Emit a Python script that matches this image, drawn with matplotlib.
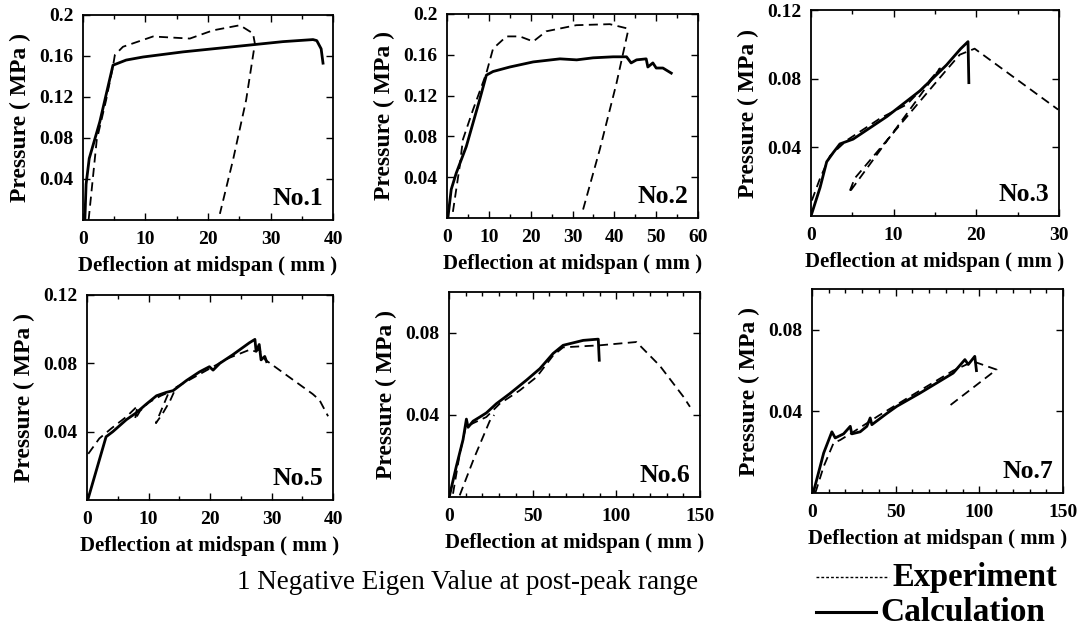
import matplotlib
matplotlib.use("Agg")
import matplotlib.pyplot as plt
from matplotlib.ticker import MultipleLocator, FixedLocator, FixedFormatter
from matplotlib.lines import Line2D

plt.rcParams['font.family'] = ['Liberation Serif', 'DejaVu Serif']

#-----------------------------------------------------------------------------------------------------------------------
# Data (x: deflection mm, y: pressure MPa)
#-----------------------------------------------------------------------------------------------------------------------
no1_exp_x = [0.9, 2.2, 3.7, 4.8, 5.1, 6.4, 11.2, 17.1, 20.8, 25.1, 27.2, 27.5, 26.1, 24.0, 21.9]
no1_exp_y = [0.0, 0.078, 0.117, 0.150, 0.161, 0.169, 0.179, 0.177, 0.185, 0.190, 0.182, 0.172, 0.117, 0.0585, 0.006]
no1_calc_x = [0.3, 0.5, 1.0, 2.7, 4.8, 6.9, 9.6, 16.0, 24.0, 32.0, 36.8, 37.4, 38.1, 38.4]
no1_calc_y = [0.0, 0.035, 0.06, 0.096, 0.151, 0.156, 0.159, 0.164, 0.169, 0.174, 0.176, 0.175, 0.167, 0.153]

no2_exp_x = [1.4, 3.0, 3.8, 6.2, 9.4, 11.0, 14.2, 17.4, 20.6, 23.7, 30.9, 38.9, 42.9, 43.3, 40.5, 36.5, 32.5]
no2_exp_y = [0.006, 0.05, 0.077, 0.106, 0.142, 0.166, 0.178, 0.178, 0.173, 0.183, 0.189, 0.190, 0.186, 0.184, 0.132, 0.067, 0.008]
no2_calc_x = [0.2, 1.0, 2.2, 4.6, 7.8, 9.4, 11.0, 15.0, 20.6, 27.0, 31.0, 34.9, 39.7, 42.9, 44.0, 45.3,
              47.6, 48.0, 49.2, 50.0, 51.6, 53.6]
no2_calc_y = [0.0, 0.028, 0.044, 0.07, 0.116, 0.140, 0.1436, 0.148, 0.153, 0.156, 0.155, 0.157, 0.158, 0.158, 0.152, 0.155,
              0.156, 0.148, 0.152, 0.147, 0.147, 0.142]

no3_exp_x = [0.1, 1.1, 2.3, 4.3, 8.4, 11.6, 14.0, 15.6, 4.6, 5.3, 16.2, 18.0, 19.8, 29.9]
no3_exp_y = [0.009, 0.022, 0.035, 0.044, 0.057, 0.065, 0.077, 0.086, 0.0135, 0.022, 0.084, 0.094, 0.0975, 0.062]
no3_calc_x = [0.1, 1.1, 1.9, 2.7, 3.5, 5.1, 9.2, 13.2, 16.4, 18.1, 19.0, 19.1]
no3_calc_y = [0.0015, 0.0166, 0.0316, 0.037, 0.042, 0.0448, 0.058, 0.073, 0.088, 0.0974, 0.1016, 0.0777]

no5_exp_x = [0.2, 2.0, 4.0, 6.5, 8.2, 7.8, 8.6, 10.0, 12.0, 13.3, 11.2, 12.2, 13.5, 14.5, 17.0, 20.0, 23.0,
             26.5, 27.3, 28.0, 29.0, 36.7, 37.8, 39.2]
no5_exp_y = [0.027, 0.036, 0.042, 0.049, 0.055, 0.047, 0.052, 0.057, 0.061, 0.063, 0.045, 0.050, 0.058, 0.066, 0.071,
             0.077, 0.083, 0.088, 0.087, 0.088, 0.082, 0.062, 0.0585, 0.049]
no5_calc_x = [0.2, 3.1, 4.2, 6.4, 8.0, 9.6, 11.3, 12.9, 14.0, 16.2, 18.3, 19.9, 20.5, 21.6, 23.7, 26.4, 27.3,
              27.5, 28.0, 28.3, 28.9, 29.2]
no5_calc_y = [0.001, 0.037, 0.040, 0.047, 0.051, 0.056, 0.061, 0.063, 0.064, 0.070, 0.075, 0.078, 0.076, 0.080,
              0.085, 0.092, 0.094, 0.087, 0.091, 0.082, 0.084, 0.081]

no6_exp_x = [2.4, 6.4, 10.0, 14.4, 22.3, 30.3, 42.3, 52.3, 62.2, 68.2, 90.2, 112.0, 126.0, 140.0, 144.0]
no6_exp_y = [0.0016, 0.021, 0.034, 0.036, 0.039, 0.0455, 0.052, 0.0585, 0.069, 0.073, 0.074, 0.0756, 0.064, 0.049, 0.044]
no6_exp2_x = [6.4, 15.0, 24.3, 27.0]
no6_exp2_y = [0.0008, 0.019, 0.037, 0.040]
no6_calc_x = [0.4, 4.4, 8.4, 10.4, 11.4, 14.4, 18.4, 22.3, 28.3, 36.3, 46.3, 54.3, 62.2, 68.2, 80.2, 89.2, 89.8]
no6_calc_y = [0.001, 0.015, 0.028, 0.038, 0.034, 0.037, 0.039, 0.041, 0.0455, 0.0504, 0.057, 0.0626, 0.070, 0.074,
              0.0764, 0.077, 0.0667]

no7_exp_x = [2.0, 7.0, 12.9, 16.9, 24.8, 40.0, 60.0, 84.4, 96.4, 110.3, 80.5]
no7_exp_y = [0.0, 0.013, 0.0245, 0.026, 0.030, 0.038, 0.048, 0.060, 0.0645, 0.0605, 0.0417]
no7_calc_x = [1.0, 7.0, 11.9, 13.9, 18.9, 22.9, 23.8, 28.8, 32.8, 34.8, 35.8, 44.7, 50.7, 64.6, 84.4, 91.4,
              93.4, 97.3, 98.3]
no7_calc_y = [0.0008, 0.0196, 0.030, 0.027, 0.029, 0.0327, 0.029, 0.030, 0.0327, 0.0368, 0.0335, 0.039, 0.0425,
              0.049, 0.0588, 0.0654, 0.063, 0.067, 0.060]

panel_names = ["No.1", "No.2", "No.3", "No.5", "No.6", "No.7"]
x_max = [40, 60, 30, 40, 150, 150]
x_major = [10, 10, 10, 10, 50, 50]
x_minor = [5, 5, 5, 5, 10, 10]
y_max = [0.2, 0.2, 0.12, 0.12, 0.1, 0.1]
y_ticks = [[0.04, 0.08, 0.12, 0.16, 0.2], [0.04, 0.08, 0.12, 0.16, 0.2], [0.04, 0.08, 0.12],
           [0.04, 0.08, 0.12], [0.04, 0.08], [0.04, 0.08]]
y_ticklabels = [["0.04", "0.08", "0.12", "0.16", "0.2"], ["0.04", "0.08", "0.12", "0.16", "0.2"],
                ["0.04", "0.08", "0.12"], ["0.04", "0.08", "0.12"], ["0.04", "0.08"], ["0.04", "0.08"]]

exp_data = [[(no1_exp_x, no1_exp_y)], [(no2_exp_x, no2_exp_y)], [(no3_exp_x, no3_exp_y)],
            [(no5_exp_x, no5_exp_y)], [(no6_exp_x, no6_exp_y), (no6_exp2_x, no6_exp2_y)], [(no7_exp_x, no7_exp_y)]]
calc_data = [(no1_calc_x, no1_calc_y), (no2_calc_x, no2_calc_y), (no3_calc_x, no3_calc_y),
             (no5_calc_x, no5_calc_y), (no6_calc_x, no6_calc_y), (no7_calc_x, no7_calc_y)]

# axes boxes in figure fraction [left, bottom, width, height]
boxes = [[0.0762, 0.6519, 0.2296, 0.3244],
         [0.4105, 0.6551, 0.2305, 0.3228],
         [0.7447, 0.6582, 0.2277, 0.3259],
         [0.0799, 0.2089, 0.2259, 0.3244],
         [0.4123, 0.2136, 0.2305, 0.3244],
         [0.7456, 0.2199, 0.2305, 0.3228]]

#-----------------------------------------------------------------------------------------------------------------------
# Plot
#-----------------------------------------------------------------------------------------------------------------------
fig = plt.figure(figsize=(10.89, 6.32), dpi=100)
dash = (0, (5, 3))

for i in range(0, len(panel_names)):
    ax = fig.add_axes(boxes[i])
    for ex, ey in exp_data[i]:
        ax.plot(ex, ey, color='black', lw=1.3, linestyle=dash)
    ax.plot(calc_data[i][0], calc_data[i][1], color='black', lw=2.0)

    ax.set_xlim(0, x_max[i])
    ax.set_ylim(0, y_max[i])
    ax.xaxis.set_major_locator(MultipleLocator(x_major[i]))
    ax.xaxis.set_minor_locator(MultipleLocator(x_minor[i]))
    ax.yaxis.set_major_locator(FixedLocator(y_ticks[i]))
    ax.yaxis.set_major_formatter(FixedFormatter(y_ticklabels[i]))
    ax.tick_params(which='both', direction='in', top=True, right=True)
    ax.tick_params(which='major', length=5, width=1)
    ax.tick_params(which='minor', length=3, width=1)
    ax.tick_params(axis='x', which='major', pad=8)
    ax.tick_params(axis='y', which='major', pad=7)
    for lab in ax.get_xticklabels() + ax.get_yticklabels():
        lab.set_fontweight('bold')
        lab.set_fontsize(14)
    for sp in ax.spines.values():
        sp.set_linewidth(1.3)

    ax.set_xlabel('Deflection at midspan ( mm )', fontsize=15, fontweight='bold', labelpad=6)
    ax.set_ylabel('Pressure ( MPa )', fontsize=17, fontweight='bold', labelpad=6)
    ax.text(0.96, 0.05, panel_names[i], transform=ax.transAxes, ha='right', va='bottom',
            fontsize=18.5, fontweight='bold')

fig.text(0.429, 0.079, '1 Negative Eigen Value at post-peak range', ha='center', va='center', fontsize=19.5)

fig.add_artist(Line2D([0.749, 0.816], [0.087, 0.087], color='black', lw=1.0, linestyle=(0, (2, 1.5))))
fig.add_artist(Line2D([0.749, 0.804], [0.031, 0.031], color='black', lw=2.2))
fig.text(0.82, 0.087, 'Experiment', ha='left', va='center', fontsize=23.5, fontweight='bold')
fig.text(0.808, 0.031, 'Calculation', ha='left', va='center', fontsize=24, fontweight='bold')

plt.savefig('out.png', dpi=100)
